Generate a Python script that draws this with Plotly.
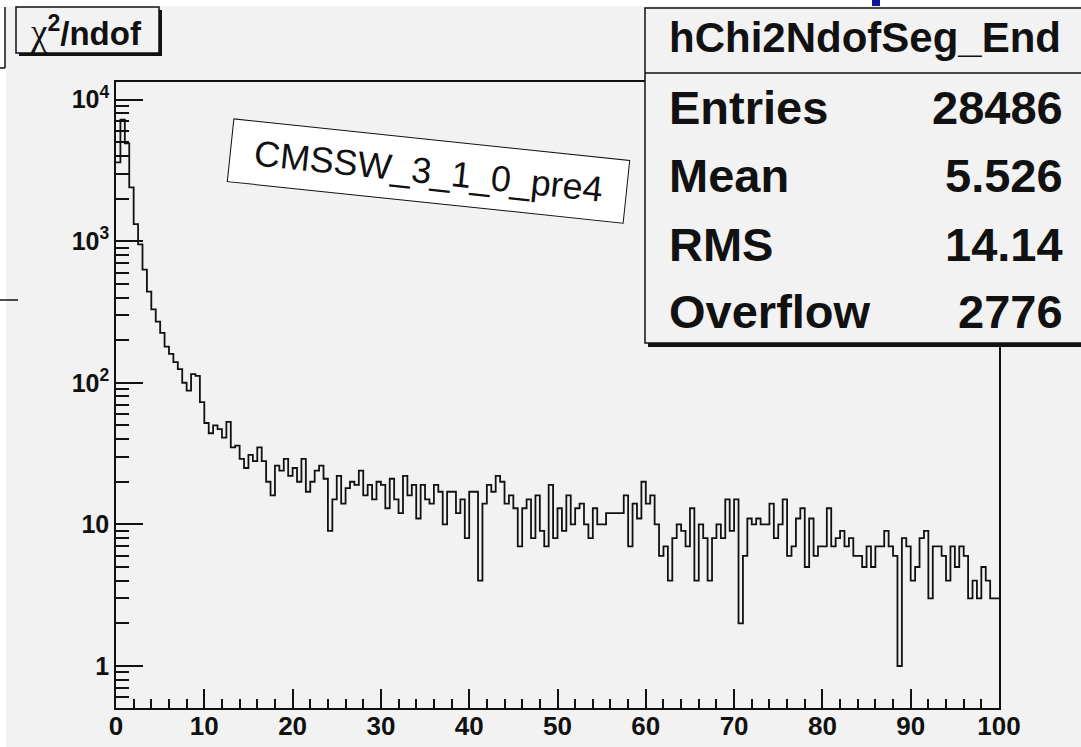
import numpy as np
import plotly.graph_objects as go

# ---- histogram content -------------------------------------------------
hist_name = "hChi2NdofSeg_End"
release_label = "CMSSW_3_1_0_pre4"
x_min, x_max, n_bins = 0.0, 100.0, 200

counts = [
    3600, 7200, 4900, 2400, 1320, 950, 630, 440, 330, 270,
    225, 180, 160, 140, 125, 100, 88, 115, 112, 73,
    52, 44, 50, 47, 41, 53, 35, 36, 29, 25,
    31, 28, 35, 28, 20, 16, 26, 24, 29, 22,
    25, 20, 29, 17, 20, 24, 26, 21, 9, 15,
    22, 14, 18, 20, 19, 24, 16, 19, 15, 20,
    19, 13, 21, 15, 12, 22, 16, 19, 11, 19,
    15, 14, 19, 17, 10, 17, 17, 12, 15, 8,
    17, 17, 4, 14, 19, 17, 22, 20, 14, 16,
    13, 7, 13, 15, 8, 16, 9, 7, 19, 8,
    13, 9, 16, 10, 13, 14, 10, 8, 13, 10,
    10, 12, 12, 12, 12, 16, 7, 14, 11, 20,
    14, 16, 10, 6, 7, 4, 8, 10, 9, 7,
    13, 4, 10, 8, 4, 8, 10, 8, 15, 9,
    15, 2, 6, 11, 10, 11, 10, 10, 14, 8,
    10, 15, 6, 7, 11, 13, 5, 11, 6, 7,
    7, 13, 7, 8, 9, 7, 8, 6, 6, 5,
    7, 5, 7, 7, 9, 7, 6, 1, 8, 7,
    4, 5, 8, 9, 3, 7, 7, 6, 4, 7,
    5, 7, 6, 3, 4, 3, 5, 4, 3, 3,
]

stat_labels = ["Entries", "Mean", "RMS", "Overflow"]
stat_values = ["28486", "5.526", "14.14", "2776"]

x_tickvals = list(range(0, 101, 10))
y_tickvals = [1, 10, 100, 1000, 10000]
y_ticktext = ["1", "10", "10<sup>2</sup>", "10<sup>3</sup>", "10<sup>4</sup>"]
y_minor_vals = [m * 10.0 ** e for e in range(-1, 4) for m in range(2, 10)]

# ---- page geometry -----------------------------------------------------
W, H = 1081, 747
L, R, T, B = 116, 82, 82, 39
PW, PH = W - L - R, H - T - B
BG = "#f2f2f2"
INK = "#111111"
SANS = "Liberation Sans, Arial, Helvetica, sans-serif"


def px(x):
    return (x - L) / PW


def py(y):
    return (H - B - y) / PH


edges = np.linspace(x_min, x_max, n_bins + 1)
step_y = list(counts) + [counts[-1]]

fig = go.Figure()
fig.add_trace(go.Scatter(
    x=edges, y=step_y, mode="lines", line_shape="hv",
    line=dict(color=INK, width=1.8), hoverinfo="skip", showlegend=False,
))

shapes = []


def rect(x0, y0, x1, y1, fill, line_w=0, line_c=INK, layer="above"):
    shapes.append(dict(
        type="rect", xref="paper", yref="paper",
        x0=px(x0), x1=px(x1), y0=py(y1), y1=py(y0),
        fillcolor=fill, line=dict(width=line_w, color=line_c), layer=layer,
    ))


def seg(x0, y0, x1, y1, w=1.5, c=INK):
    shapes.append(dict(
        type="line", xref="paper", yref="paper",
        x0=px(x0), x1=px(x1), y0=py(y0), y1=py(y1),
        line=dict(width=w, color=c), layer="above",
    ))


# canvas margins and neighbouring pad edges
rect(0, 0, W, 6, "white")
rect(0, 0, 6, H, "white")
seg(5, 7, 5, 68)
seg(0, 68, 5, 68)
seg(0, 300, 18, 300)
rect(872, 0, 880, 6, "#14149a")

# stats box with shadow
rect(648, 343, W + 5, 347, INK)
rect(645, 8, W + 5, 343, BG, 1.5)
seg(645, 73, W + 5, 73)

# title box with shadow
rect(19, 10, 162, 56, INK)
rect(16, 7, 159, 53, BG, 1.5)

fig.update_layout(shapes=shapes)

annotations = [
    dict(
        x=px(86), y=py(31), xref="paper", yref="paper", showarrow=False,
        text="<span style='font-family:Liberation Serif;font-weight:normal;font-size:37px'>χ</span>"
             "<sup>2</sup>/ndof",
        font=dict(family=SANS, size=33, color=INK, weight="bold"),
        xanchor="center", yanchor="middle",
    ),
    dict(
        x=px(428), y=py(171), xref="paper", yref="paper", showarrow=False,
        text=release_label, textangle=6,
        font=dict(family=SANS, size=36, color=INK),
        bgcolor="white", bordercolor=INK, borderwidth=1,
        width=395, height=60, xanchor="center", yanchor="middle",
    ),
    dict(
        x=px(667), y=py(38), xref="paper", yref="paper", showarrow=False,
        text=hist_name, font=dict(family=SANS, size=42, color=INK, weight="bold"),
        xanchor="left", yanchor="middle",
    ),
]
row_y = [107, 176, 244, 311]
for lab, val, yy in zip(stat_labels, stat_values, row_y):
    annotations.append(dict(
        x=px(667), y=py(yy), xref="paper", yref="paper", showarrow=False,
        text=lab, font=dict(family=SANS, size=47, color=INK, weight="bold"),
        xanchor="left", yanchor="middle",
    ))
    annotations.append(dict(
        x=px(1065), y=py(yy), xref="paper", yref="paper", showarrow=False,
        text=val, font=dict(family=SANS, size=47, color=INK, weight="bold"),
        xanchor="right", yanchor="middle",
    ))

fig.update_layout(
    width=W, height=H,
    margin=dict(l=L, r=R, t=T, b=B, pad=0),
    paper_bgcolor=BG, plot_bgcolor=BG,
    annotations=annotations,
    xaxis=dict(
        range=[x_min, x_max], tickmode="array", tickvals=x_tickvals,
        ticks="inside", ticklen=19, tickwidth=1.5, tickcolor=INK,
        minor=dict(ticks="inside", ticklen=9, tickwidth=1.5, tickcolor=INK,
                   dtick=2, tick0=0, showgrid=False),
        showline=True, linecolor=INK, linewidth=1.5, mirror=True,
        showgrid=False, zeroline=False, automargin=False,
        tickfont=dict(family=SANS, size=26, color=INK, weight="bold"),
        ticklabelstandoff=-6,
    ),
    yaxis=dict(
        type="log", range=[np.log10(0.505), np.log10(13300)],
        tickmode="array", tickvals=y_tickvals, ticktext=y_ticktext,
        ticks="inside", ticklen=27, tickwidth=1.5, tickcolor=INK,
        minor=dict(ticks="inside", ticklen=13, tickwidth=1.5, tickcolor=INK,
                   tickmode="array", tickvals=y_minor_vals, showgrid=False),
        showline=True, linecolor=INK, linewidth=1.5, mirror=True,
        showgrid=False, zeroline=False, automargin=False,
        tickfont=dict(family=SANS, size=25, color=INK, weight="bold"),
        ticklabelstandoff=0,
    ),
)

fig.write_html("out.html")
